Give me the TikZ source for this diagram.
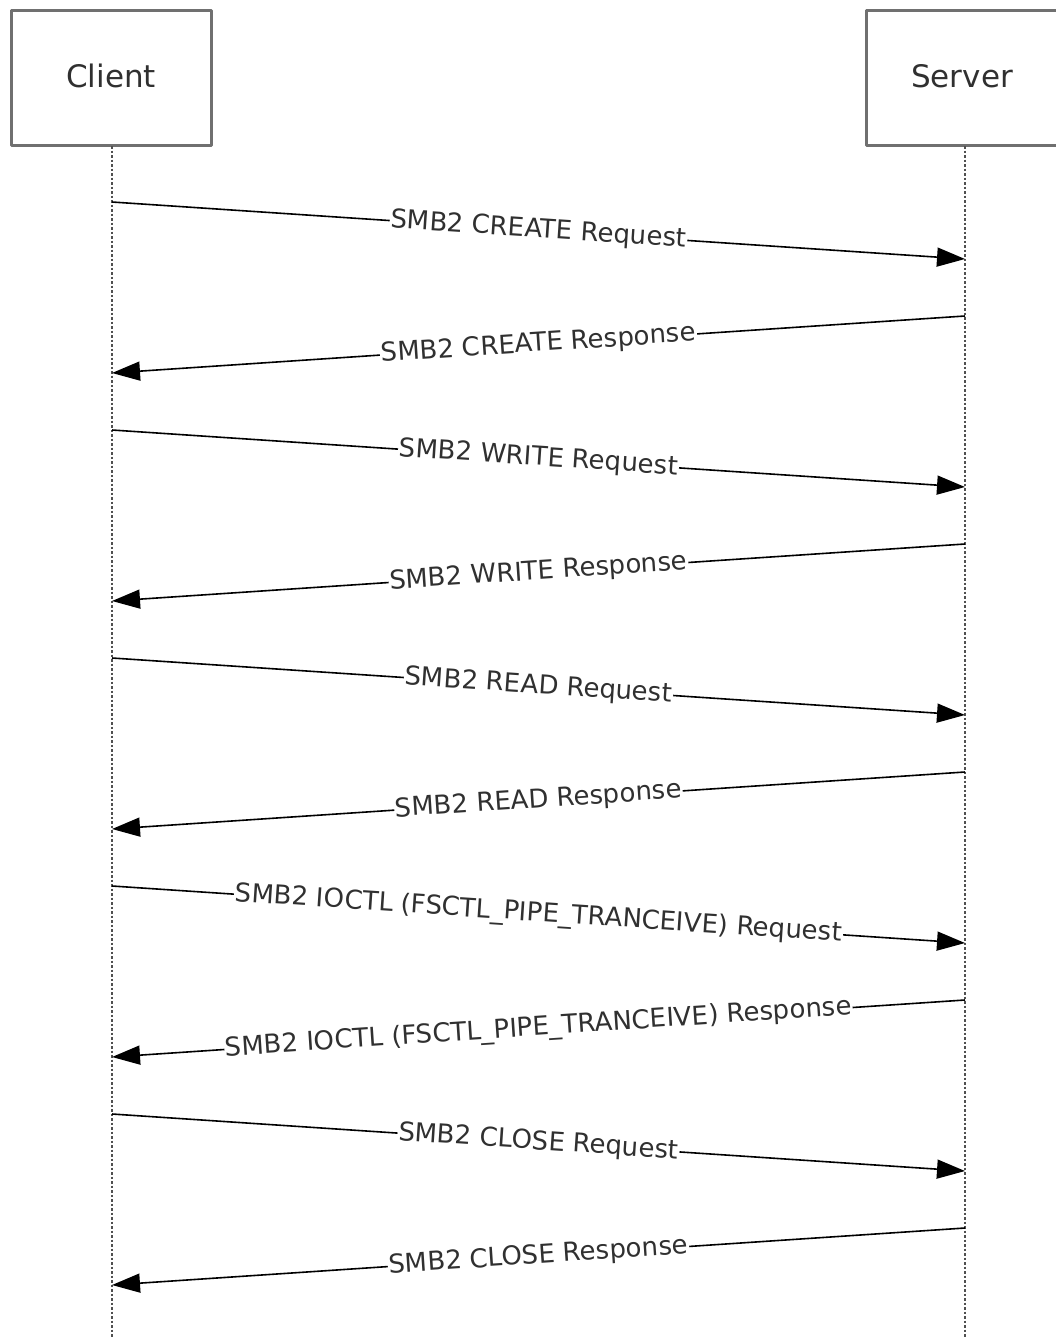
\documentclass[tikz,border=0pt]{standalone}
\usepackage{fontspec}
\setmainfont{DejaVu Sans}
\usetikzlibrary{arrows.meta}
\definecolor{boxgray}{HTML}{707070}
\definecolor{linegray}{HTML}{505050}
\definecolor{txt}{HTML}{303030}
\tikzset{
  framebox/.style={draw=boxgray, line width=3pt, line join=round},
  title/.style={text=txt, font=\fontsize{31}{37}\selectfont, inner sep=0pt},
  lifeline/.style={draw=linegray, line width=2.6pt, dash pattern=on 2.5pt off 2pt},
  msg/.style={draw=black, line width=1.6pt, -{Triangle[length=28pt, width=19pt]}},
  msglabel/.style={midway, sloped, fill=white, text=txt, inner xsep=1pt, inner ysep=0pt,
    font=\fontsize{26}{31}\selectfont}
}
\begin{document}
\begin{tikzpicture}[x=1pt, y=-1pt]
\useasboundingbox (0,0) rectangle (1055,1338);
% participant boxes
\draw[framebox] (11,11) rectangle (211,145);
\draw[framebox] (1058,11) -- (866,11) -- (866,145) -- (1058,145);
\node[title] (client) at (111,76) {Client};
\node[title] (server) at (962,76) {Server};
% lifelines
\coordinate (ctop) at (112,146);
\coordinate (cbot) at (112,1338);
\coordinate (stop) at (965,146);
\coordinate (sbot) at (965,1338);
\draw[lifeline] (ctop) -- (cbot);
\draw[lifeline] (stop) -- (sbot);
% message end points
\foreach \i/\y in {1/202,2/316,3/430,4/544,5/658,6/772,7/886,8/1000,9/1114,10/1228}{
  \coordinate (c\i) at (112,\y);
  \coordinate (s\i) at (965,\y);
  \coordinate (cb\i) at (112,\y+57);
  \coordinate (sb\i) at (965,\y+57);
}
\draw[msg] (c1) -- (sb1) node[msglabel] (m1) {SMB2 CREATE Request};
\draw[msg] (s2) -- (cb2) node[msglabel] (m2) {SMB2 CREATE Response};
\draw[msg] (c3) -- (sb3) node[msglabel] (m3) {SMB2 WRITE Request};
\draw[msg] (s4) -- (cb4) node[msglabel] (m4) {SMB2 WRITE Response};
\draw[msg] (c5) -- (sb5) node[msglabel] (m5) {SMB2 READ Request};
\draw[msg] (s6) -- (cb6) node[msglabel] (m6) {SMB2 READ Response};
\draw[msg] (c7) -- (sb7) node[msglabel] (m7) {SMB2 IOCTL (FSCTL\_PIPE\_TRANCEIVE) Request};
\draw[msg] (s8) -- (cb8) node[msglabel] (m8) {SMB2 IOCTL (FSCTL\_PIPE\_TRANCEIVE) Response};
\draw[msg] (c9) -- (sb9) node[msglabel] (m9) {SMB2 CLOSE Request};
\draw[msg] (s10) -- (cb10) node[msglabel] (m10) {SMB2 CLOSE Response};
\end{tikzpicture}
\end{document}
